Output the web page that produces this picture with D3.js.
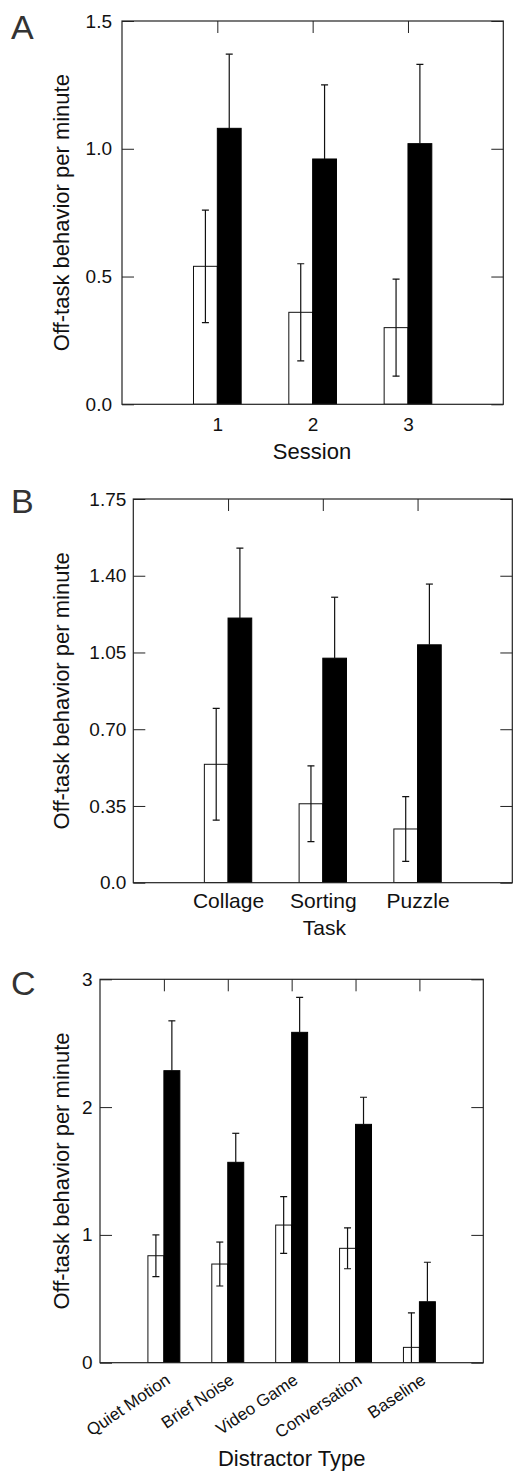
<!DOCTYPE html>
<html>
<head>
<meta charset="utf-8">
<script src="https://cdn.jsdelivr.net/npm/d3@7"></script>
<style>
  body { margin: 0; background: #fff; }
  svg { display: block; font-family: "Liberation Sans", Arial, sans-serif; }
</style>
</head>
<body>
<div id="chart"></div>
<script>
// Panel A - session
const sessionLabels = ['1', '2', '3'];
const sessionWhite = [0.54, 0.36, 0.30];
const sessionWhiteErr = [0.22, 0.19, 0.19];
const sessionBlack = [1.08, 0.96, 1.02];
const sessionBlackErr = [0.29, 0.29, 0.31];
const sessionTicks = [0, 0.5, 1.0, 1.5];
const sessionTickLabels = ['0.0', '0.5', '1.0', '1.5'];

// Panel B - task
const taskLabels = ['Collage', 'Sorting', 'Puzzle'];
const taskWhite = [0.54, 0.36, 0.245];
const taskWhiteErr = [0.255, 0.173, 0.148];
const taskBlack = [1.207, 1.024, 1.085];
const taskBlackErr = [0.319, 0.278, 0.277];
const taskTicks = [0, 0.35, 0.70, 1.05, 1.40, 1.75];
const taskTickLabels = ['0.0', '0.35', '0.70', '1.05', '1.40', '1.75'];

// Panel C - distractor type
const distractorLabels = ['Quiet Motion', 'Brief Noise', 'Video Game', 'Conversation', 'Baseline'];
const distractorWhite = [0.837, 0.772, 1.077, 0.895, 0.12];
const distractorWhiteErr = [0.163, 0.172, 0.222, 0.16, 0.27];
const distractorBlack = [2.285, 1.568, 2.585, 1.865, 0.477];
const distractorBlackErr = [0.39, 0.227, 0.274, 0.212, 0.309];
const distractorTicks = [0, 1, 2, 3];
const distractorTickLabels = ['0', '1', '2', '3'];

const svgWidth = 517;
const svgHeight = 1471;
const frameColor = '#222';

const svg = d3.select('#chart')
    .append('svg')
    .attr('width', svgWidth)
    .attr('height', svgHeight);

function drawPanel(p) {
    const x = d3.scaleLinear().domain([0, p.labels.length + 1]).range([p.left, p.right]);
    const y = d3.scaleLinear().domain([0, p.yMax]).range([p.bottom, p.top]);
    const g = svg.append('g');

    // clip for bars and whiskers
    g.append('clipPath').attr('id', 'clip-' + p.id)
        .append('rect')
        .attr('x', p.left).attr('y', p.top)
        .attr('width', p.right - p.left).attr('height', p.bottom - p.top);

    const rows = p.labels.map((d, i) => ({
        pos: i + 1,
        white: p.white[i], whiteErr: p.whiteErr[i],
        black: p.black[i], blackErr: p.blackErr[i]
    }));

    const plot = g.append('g').attr('clip-path', `url(#clip-${p.id})`);
    const bw = 0.25;

    // white bars
    plot.selectAll('.wbar').data(rows).enter().append('rect')
        .attr('x', d => x(d.pos - bw))
        .attr('y', d => y(d.white))
        .attr('width', d => x(d.pos) - x(d.pos - bw))
        .attr('height', d => y(0) - y(d.white))
        .attr('fill', '#fff').attr('stroke', '#111').attr('stroke-width', 1);

    // black bars
    plot.selectAll('.bbar').data(rows).enter().append('rect')
        .attr('x', d => x(d.pos))
        .attr('y', d => y(d.black))
        .attr('width', d => x(d.pos + bw) - x(d.pos))
        .attr('height', d => y(0) - y(d.black))
        .attr('fill', '#000').attr('stroke', '#000').attr('stroke-width', 1);

    const cap = 3.5;
    // white error bars (both directions)
    rows.forEach(d => {
        const cx = x(d.pos - bw / 2);
        const hi = y(d.white + d.whiteErr);
        const lo = y(d.white - d.whiteErr);
        plot.append('line').attr('x1', cx).attr('x2', cx).attr('y1', hi).attr('y2', lo)
            .attr('stroke', '#111').attr('stroke-width', 1.2);
        [hi, lo].forEach(yy => {
            plot.append('line').attr('x1', cx - cap).attr('x2', cx + cap)
                .attr('y1', yy).attr('y2', yy)
                .attr('stroke', '#111').attr('stroke-width', 1.2);
        });
        // black error bars (upper only)
        const bx = x(d.pos + bw / 2);
        const bhi = y(d.black + d.blackErr);
        plot.append('line').attr('x1', bx).attr('x2', bx).attr('y1', y(d.black)).attr('y2', bhi)
            .attr('stroke', '#111').attr('stroke-width', 1.2);
        plot.append('line').attr('x1', bx - cap).attr('x2', bx + cap)
            .attr('y1', bhi).attr('y2', bhi)
            .attr('stroke', '#111').attr('stroke-width', 1.2);
    });

    // left axis with inward ticks
    const yAxis = d3.axisLeft(y)
        .tickValues(p.ticks)
        .tickFormat((d, i) => p.tickLabels[i])
        .tickSizeInner(-12).tickSizeOuter(0).tickPadding(p.tickPad);
    const ly = g.append('g').attr('transform', `translate(${p.left},0)`).call(yAxis);
    ly.select('.domain').remove();
    ly.selectAll('line').attr('stroke', frameColor);
    ly.selectAll('text').attr('font-size', 19).attr('fill', '#111')
        .attr('font-family', '"Liberation Sans", Arial, sans-serif');

    // right axis ticks
    const ry = g.append('g').attr('transform', `translate(${p.right},0)`)
        .call(d3.axisRight(y).tickValues(p.ticks).tickFormat('').tickSizeInner(-12).tickSizeOuter(0));
    ry.select('.domain').remove();
    ry.selectAll('line').attr('stroke', frameColor);

    // top ticks at categories
    const tx = g.append('g').attr('transform', `translate(0,${p.top})`)
        .call(d3.axisTop(x).tickValues(rows.map(d => d.pos)).tickFormat('').tickSizeInner(-12).tickSizeOuter(0));
    tx.select('.domain').remove();
    tx.selectAll('line').attr('stroke', frameColor);

    // bottom category labels
    const bx = g.append('g').attr('transform', `translate(0,${p.bottom})`)
        .call(d3.axisBottom(x).tickValues(rows.map(d => d.pos))
            .tickFormat((d, i) => p.labels[i]).tickSize(0).tickPadding(p.catPad));
    bx.select('.domain').remove();
    bx.selectAll('text').attr('font-size', p.catSize).attr('fill', '#111')
        .attr('font-family', '"Liberation Sans", Arial, sans-serif');
    if (p.rotate) {
        bx.selectAll('text')
            .attr('dy', null).attr('x', 0).attr('y', 0)
            .attr('text-anchor', 'end')
            .attr('transform', `translate(7,20) rotate(${p.rotate})`);
    }

    // frame
    g.append('rect')
        .attr('x', p.left).attr('y', p.top)
        .attr('width', p.right - p.left).attr('height', p.bottom - p.top)
        .attr('fill', 'none').attr('stroke', frameColor).attr('stroke-width', 1.2);

    // y axis title
    g.append('text')
        .attr('transform', `translate(69,${(p.top + p.bottom) / 2}) rotate(-90)`)
        .attr('text-anchor', 'middle')
        .attr('font-size', 22).attr('fill', '#111')
        .text('Off-task behavior per minute');

    // x axis title
    g.append('text')
        .attr('x', p.titleX).attr('y', p.titleY)
        .attr('text-anchor', 'middle')
        .attr('font-size', p.titleSize).attr('fill', '#111')
        .text(p.title);

    // panel letter
    g.append('text')
        .attr('x', 11).attr('y', p.letterY)
        .attr('font-size', 34).attr('fill', '#333')
        .text(p.letter);
}

drawPanel({
    id: 'a', letter: 'A', letterY: 39,
    left: 122, right: 503.3, top: 21, bottom: 404.3, yMax: 1.5,
    labels: sessionLabels, white: sessionWhite, whiteErr: sessionWhiteErr,
    black: sessionBlack, blackErr: sessionBlackErr,
    ticks: sessionTicks, tickLabels: sessionTickLabels, tickPad: 10,
    catSize: 19, catPad: 13,
    title: 'Session', titleX: 312, titleY: 459, titleSize: 22
});

drawPanel({
    id: 'b', letter: 'B', letterY: 513,
    left: 133.3, right: 512.3, top: 499, bottom: 882.7, yMax: 1.75,
    labels: taskLabels, white: taskWhite, whiteErr: taskWhiteErr,
    black: taskBlack, blackErr: taskBlackErr,
    ticks: taskTicks, tickLabels: taskTickLabels, tickPad: 7,
    catSize: 21, catPad: 10.5,
    title: 'Task', titleX: 324.3, titleY: 935, titleSize: 21
});

drawPanel({
    id: 'c', letter: 'C', letterY: 995,
    left: 100, right: 483.3, top: 979.3, bottom: 1362.7, yMax: 3,
    labels: distractorLabels, white: distractorWhite, whiteErr: distractorWhiteErr,
    black: distractorBlack, blackErr: distractorBlackErr,
    ticks: distractorTicks, tickLabels: distractorTickLabels, tickPad: 7.5,
    catSize: 17, catPad: 0, rotate: -34,
    title: 'Distractor Type', titleX: 291.7, titleY: 1466, titleSize: 22
});
</script>
</body>
</html>
